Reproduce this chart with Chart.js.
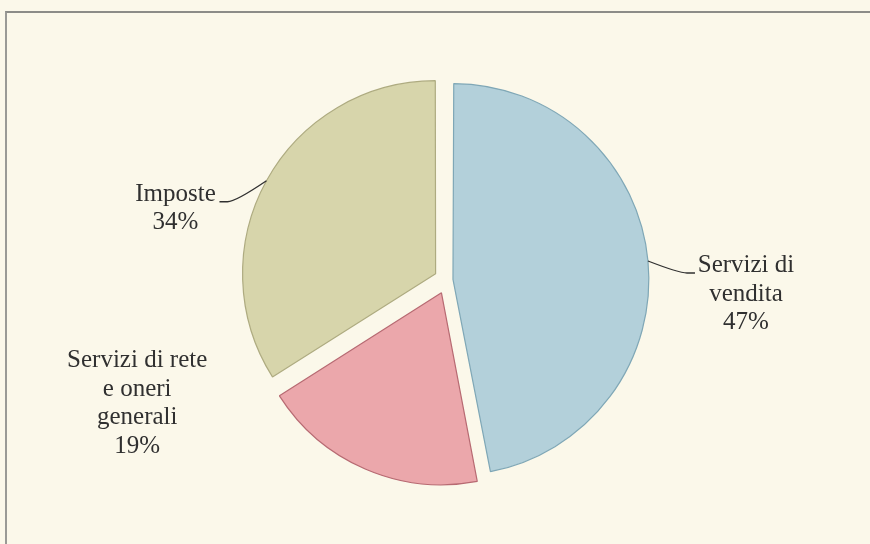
<!DOCTYPE html>
<html>
<head>
<meta charset="utf-8">
<script src="https://cdn.jsdelivr.net/npm/chart.js@4.4.1/dist/chart.umd.min.js"></script>
<style>
  html, body { margin: 0; padding: 0; background: #fbf8ea; width: 870px; height: 544px; overflow: hidden; }
  #frame { position: absolute; left: 5px; top: 11px; width: 900px; height: 600px; border-top: 2px solid #8c8c88; border-left: 2px solid #9a9a96; }
  #pie { position: absolute; left: 0; top: 0; }
</style>
</head>
<body>
<div id="frame"></div>
<canvas id="pie" width="870" height="544"></canvas>
<script>
        // Chart data
        const categories = ['Servizi di vendita', 'Servizi di rete e oneri generali', 'Imposte'];
        const shares = [47, 19, 34];
        const labelLines = [['Servizi di', 'vendita'], ['Servizi di rete', 'e oneri', 'generali'], ['Imposte']];

        const fills = ['#b3d0da', '#eba7ab', '#d7d5ab'];
        const edges = ['#7fa7b6', '#b76a72', '#aeab80'];
        const shifts = [24, 56, 52];   // chart.js divides arc offset by 4

        // where each label sits relative to the slice's outer mid point
        const labelLayout = [
            { dx: 98, dy: 11, leader: true },
            { dx: -228, dy: -102, leader: false },
            { dx: -91, dy: 20, leader: true }
        ];

        const sliceLabels = {
            id: 'sliceLabels',
            afterDatasetsDraw(chart) {
                const ctx = chart.ctx;
                const arcs = chart.getDatasetMeta(0).data;
                ctx.save();
                ctx.font = '25px "Liberation Serif", "DejaVu Serif", serif';
                ctx.fillStyle = '#303030';
                ctx.strokeStyle = '#303030';
                ctx.lineWidth = 1.3;
                ctx.textAlign = 'center';
                ctx.textBaseline = 'alphabetic';
                arcs.forEach((arc, i) => {
                    const mid = (arc.startAngle + arc.endAngle) / 2;
                    const s = (arc.options.offset || 0) / 4;
                    const fix = 1 - Math.sin(Math.min(Math.PI, arc.circumference));
                    const r = arc.outerRadius + s * fix + s;
                    const ax = arc.x + Math.cos(mid) * r;
                    const ay = arc.y + Math.sin(mid) * r;
                    const lay = labelLayout[i];
                    const tx = ax + lay.dx, ty = ay + lay.dy;
                    if (lay.leader) {
                        const dir = Math.sign(lay.dx);
                        ctx.beginPath();
                        ctx.moveTo(ax, ay);
                        ctx.quadraticCurveTo(ax + dir * 31, ty + 1, ax + dir * 39, ty + 1);
                        ctx.lineTo(ax + dir * 47, ty + 1);
                        ctx.stroke();
                    }
                    const lines = labelLines[i].concat([shares[i] + '%']);
                    lines.forEach((ln, k) => ctx.fillText(ln, tx, ty + k * 28.5));
                });
                ctx.restore();
            }
        };

        new Chart(document.getElementById('pie').getContext('2d'), {
            type: 'pie',
            data: {
                labels: categories,
                datasets: [{
                    data: shares,
                    backgroundColor: fills,
                    borderColor: edges,
                    borderWidth: 1.2,
                    offset: shifts,
                    hoverOffset: 0,
                    radius: 191
                }]
            },
            options: {
                responsive: false,
                animation: false,
                layout: { padding: { left: 24, top: 16 } },
                plugins: { legend: { display: false }, tooltip: { enabled: false } },
                events: []
            },
            plugins: [sliceLabels]
        });
</script>
</body>
</html>
